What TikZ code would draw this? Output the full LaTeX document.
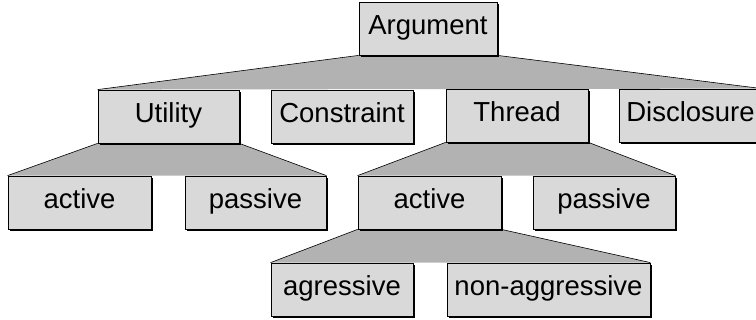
\documentclass[tikz,border=0pt]{standalone}
\usepackage{fontspec}
\setmainfont{Liberation Sans}
\usetikzlibrary{shadows,backgrounds}
\definecolor{boxgray}{gray}{0.85}
\definecolor{fangray}{gray}{0.70}
\newcommand{\fan}[3]{%
  \fill[fangray] (#1.south west) -- (#2.north west) -- (#3.north east) -- (#1.south east) -- cycle;
  \draw[line width=0.6pt] (#1.south west) -- (#2.north west) (#1.south east) -- (#3.north east);
}

\begin{document}
\begin{tikzpicture}[
    x=1pt, y=-1pt,
    every node/.style={font=\fontsize{27.5}{32}\selectfont},
    cat/.style={draw, line width=0.8pt, fill=boxgray, inner sep=0pt,
      text height=19pt, text depth=6pt,
      minimum width=142pt, minimum height=53pt,
      general shadow={fill=black, shadow xshift=1.6pt, shadow yshift=-1.6pt}}
  ]
  \useasboundingbox (0,0) rectangle (756,320);
  \node[cat, minimum width=138pt] (arg) at (428,28.5) {Argument};
  % first level
  \node[cat, minimum width=141pt] (util) at (168.5,116.5) {Utility};
  \node[cat] (cons) at (342,116.5) {Constraint};
  \node[cat] (thr) at (517,115.5) {Thread};
  \node[cat] (disc) at (690.5,115.5) {Disclosure};
  % second level
  \node[cat, minimum width=143pt] (uact) at (79.5,202.5) {active};
  \node[cat, minimum width=141pt] (upas) at (255.5,202.5) {passive};
  \node[cat, minimum width=143pt] (tact) at (429.5,202.5) {active};
  \node[cat] (tpas) at (604,202.5) {passive};
  % third level
  \node[cat] (agr) at (342,289.5) {agressive};
  \node[cat, minimum width=203pt] (nagr) at (548.5,289.5) {non-aggressive};
  \begin{pgfonlayer}{background}
    \fan{arg}{util}{disc}
    \fan{util}{uact}{upas}
    \fan{thr}{tact}{tpas}
    \fan{tact}{agr}{nagr}
  \end{pgfonlayer}
\end{tikzpicture}
\end{document}
